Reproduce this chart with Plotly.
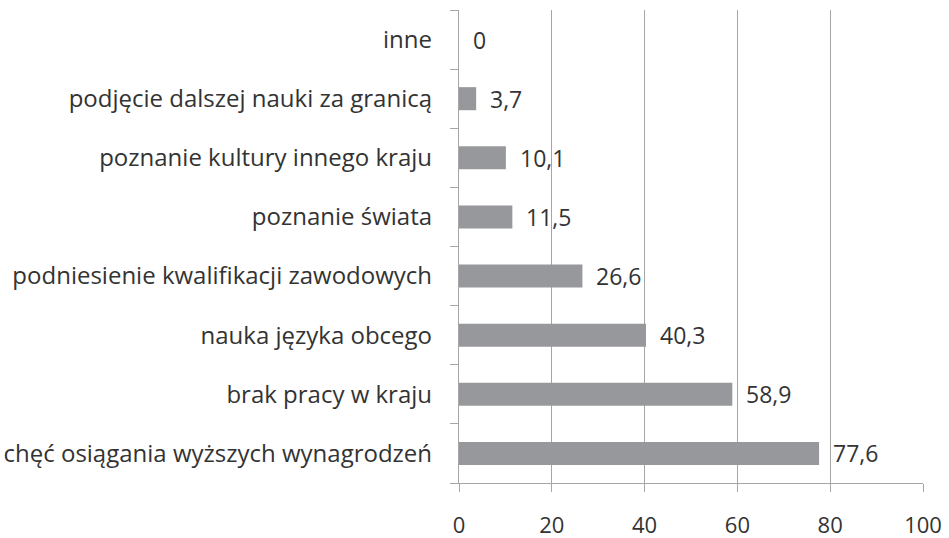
import plotly.graph_objects as go

categories = [
    "chęć osiągania wyższych wynagrodzeń",
    "brak pracy w kraju",
    "nauka języka obcego",
    "podniesienie kwalifikacji zawodowych",
    "poznanie świata",
    "poznanie kultury innego kraju",
    "podjęcie dalszej nauki za granicą",
    "inne",
]
values = [77.6, 58.9, 40.3, 26.6, 11.5, 10.1, 3.7, 0]
value_labels = ["77,6", "58,9", "40,3", "26,6", "11,5", "10,1", "3,7", "0"]
x_ticks = [0, 20, 40, 60, 80, 100]

FONT = "Open Sans"
TXT = "#333333"
GRID = "#a6a6a6"

fig = go.Figure()
fig.add_trace(go.Bar(
    y=categories, x=values, orientation="h",
    marker=dict(color="#97989b", line=dict(width=0)),
    hoverinfo="skip",
))

for c, v, t in zip(categories, values, value_labels):
    fig.add_annotation(x=v, y=c, text=t, showarrow=False, xanchor="left",
                       xshift=12, font=dict(family=FONT, size=23, color=TXT))

fig.update_layout(
    width=949, height=538,
    margin=dict(l=459, r=26, t=10, b=55, autoexpand=False),
    paper_bgcolor="white", plot_bgcolor="white",
    bargap=0.61, showlegend=False,
    font=dict(family=FONT, size=24, color=TXT),
)
fig.update_xaxes(
    range=[0, 100], tickvals=x_ticks, ticktext=[str(v) for v in x_ticks],
    showgrid=True, gridcolor=GRID, gridwidth=1.3,
    showline=True, linecolor=GRID, linewidth=1.3,
    ticks="outside", ticklen=8, tickcolor=GRID, tickwidth=1.3,
    ticklabelstandoff=14, zeroline=False, automargin=False,
    tickfont=dict(family=FONT, size=22, color=TXT),
)
fig.update_yaxes(
    categoryorder="array", categoryarray=categories,
    showgrid=False, showline=True, linecolor=GRID, linewidth=1.3,
    ticks="outside", ticklen=8, tickcolor=GRID, tickwidth=1.3,
    tickson="boundaries", ticklabelstandoff=21, automargin=False,
    tickfont=dict(family=FONT, size=24, color=TXT),
)

fig.write_html("out.html", config={"displayModeBar": False},
               post_script="document.body.style.margin='0';")
